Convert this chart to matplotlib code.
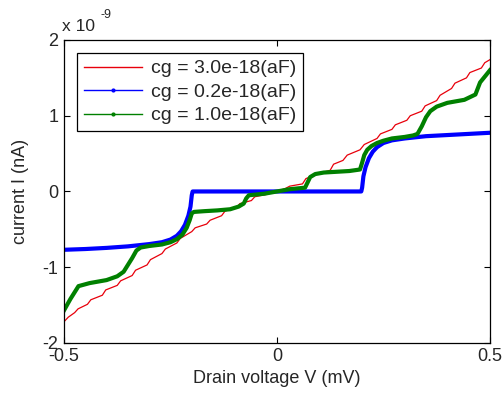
"""I-V curves of a single electron transistor for three gate capacitances."""

import matplotlib
matplotlib.use("Agg")
import matplotlib.pyplot as plt
from matplotlib.lines import Line2D

plt.rcParams["font.family"] = ["Liberation Sans", "DejaVu Sans"]
plt.rcParams["axes.unicode_minus"] = False

# Data (V in mV, I in units of 1e-9 A)
v_red = [-0.5, -0.49, -0.475, -0.467, -0.445, -0.437, -0.41, -0.402, -0.375, -0.367,
         -0.34, -0.332, -0.305, -0.297, -0.27, -0.262, -0.235, -0.227, -0.20, -0.192,
         -0.165, -0.157, -0.13, -0.122, -0.095, -0.087, -0.06, -0.052, -0.025, 0.0,
         0.02, 0.03, 0.06, 0.068, 0.10, 0.125, 0.133, 0.155, 0.165, 0.195,
         0.205, 0.235, 0.243, 0.27, 0.278, 0.305, 0.313, 0.34, 0.348, 0.375,
         0.383, 0.41, 0.418, 0.445, 0.453, 0.48, 0.488, 0.5]
i_red = [-1.72, -1.66, -1.60, -1.55, -1.49, -1.43, -1.37, -1.30, -1.24, -1.18,
         -1.11, -1.04, -0.97, -0.90, -0.82, -0.76, -0.68, -0.62, -0.53, -0.48,
         -0.43, -0.38, -0.32, -0.26, -0.21, -0.16, -0.12, -0.07, -0.04, 0.0,
         0.04, 0.07, 0.10, 0.17, 0.24, 0.28, 0.36, 0.41, 0.48, 0.55,
         0.62, 0.70, 0.76, 0.82, 0.88, 0.94, 1.00, 1.06, 1.13, 1.20,
         1.27, 1.36, 1.43, 1.50, 1.57, 1.63, 1.70, 1.74]

v_blue = [-0.5, -0.45, -0.40, -0.35, -0.30, -0.27, -0.25, -0.235, -0.225, -0.216,
          -0.208, -0.203, -0.200, -0.198, 0.198, 0.200, 0.203, 0.208, 0.216, 0.225,
          0.235, 0.25, 0.27, 0.30, 0.35, 0.40, 0.45, 0.5]
i_blue = [-0.77, -0.76, -0.745, -0.725, -0.695, -0.67, -0.635, -0.585, -0.525, -0.44,
          -0.32, -0.20, -0.05, 0.0, 0.0, 0.05, 0.20, 0.32, 0.44, 0.525,
          0.585, 0.64, 0.675, 0.70, 0.73, 0.745, 0.76, 0.775]

v_green = [-0.5, -0.485, -0.466, -0.44, -0.40, -0.375, -0.36, -0.35, -0.34, -0.33,
           -0.32, -0.30, -0.27, -0.25, -0.235, -0.222, -0.212, -0.205, -0.200, -0.195,
           -0.17, -0.14, -0.11, -0.09, -0.078, -0.072, -0.066, -0.03, 0.0, 0.03,
           0.066, 0.072, 0.078, 0.09, 0.11, 0.14, 0.17, 0.195, 0.200, 0.205,
           0.212, 0.222, 0.235, 0.25, 0.27, 0.30, 0.32, 0.33, 0.34, 0.35,
           0.36, 0.375, 0.40, 0.44, 0.466, 0.477, 0.49, 0.5]
i_green = [-1.57, -1.42, -1.25, -1.21, -1.17, -1.12, -1.06, -0.97, -0.88, -0.78,
           -0.74, -0.72, -0.70, -0.67, -0.63, -0.57, -0.48, -0.38, -0.29, -0.27,
           -0.26, -0.25, -0.235, -0.20, -0.16, -0.09, -0.05, -0.03, 0.0, 0.03,
           0.05, 0.12, 0.19, 0.23, 0.25, 0.26, 0.27, 0.29, 0.38, 0.48,
           0.55, 0.60, 0.64, 0.67, 0.70, 0.72, 0.74, 0.76, 0.86, 0.98,
           1.06, 1.12, 1.17, 1.21, 1.28, 1.44, 1.53, 1.60]

labels = ["cg = 3.0e-18(aF)", "cg = 0.2e-18(aF)", "cg = 1.0e-18(aF)"]
red = "#e8000b"
blue = "#0000ff"
green = "#008000"
text_col = "#262626"

fig = plt.figure(figsize=(5.04, 3.96), dpi=100)
ax = fig.add_axes([0.127, 0.134, 0.845, 0.765])

ax.plot(v_red, i_red, color=red, linewidth=0.9)
ax.plot(v_blue, i_blue, color=blue, linewidth=3.0)
ax.plot(v_green, i_green, color=green, linewidth=3.0)

ax.set_xlim(-0.5, 0.5)
ax.set_ylim(-2, 2)
ax.set_xticks([-0.5, 0, 0.5])
ax.set_xticklabels(["-0.5", "0", "0.5"])
ax.set_yticks([-2, -1, 0, 1, 2])
ax.set_yticklabels(["-2", "-1", "0", "1", "2"])
ax.tick_params(direction="in", top=True, right=True, length=4, width=0.8,
               labelsize=13, pad=4, labelcolor=text_col)
for s in ax.spines.values():
    s.set_linewidth(0.9)

ax.set_xlabel("Drain voltage V (mV)", fontsize=13, labelpad=3, color=text_col)
ax.set_ylabel("current I (nA)", fontsize=13, labelpad=10, color=text_col)

# exponent label in MATLAB style
fig.text(0.124, 0.934, "x 10", fontsize=12.5, va="center", ha="left", color=text_col)
fig.text(0.199, 0.963, "-9", fontsize=9, va="center", ha="left", color=text_col)

handles = [
    Line2D([], [], color=red, linewidth=1.0),
    Line2D([], [], color=blue, linewidth=1.0, marker=".", markersize=4),
    Line2D([], [], color=green, linewidth=1.0, marker=".", markersize=4),
]
leg = ax.legend(handles, labels, loc="upper left", bbox_to_anchor=(0.03, 0.957),
                borderaxespad=0, fontsize=14, handlelength=3.0, handletextpad=0.45,
                labelspacing=0.3, borderpad=0.35, fancybox=False, framealpha=1)
leg.get_frame().set_edgecolor("black")
leg.get_frame().set_linewidth(0.9)
for t in leg.get_texts():
    t.set_color(text_col)

plt.savefig("out.png", dpi=100)
